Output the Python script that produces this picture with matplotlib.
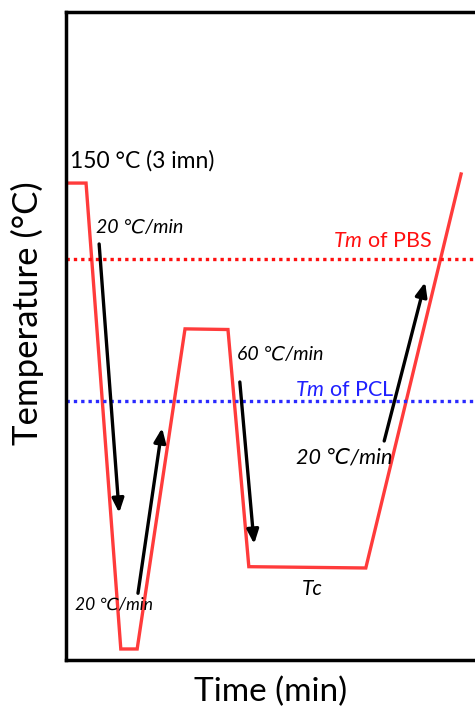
import matplotlib.pyplot as plt

plt.rcParams['font.family'] = ['Lato', 'DejaVu Sans']
plt.rcParams['mathtext.fontset'] = 'custom'
plt.rcParams['mathtext.rm'] = 'Lato'
plt.rcParams['mathtext.it'] = 'Lato:italic'

# Thermal program (schematic units, no ticks shown)
time_pts = [0.0, 4.9, 13.4, 17.4, 29.1, 39.6, 44.7, 73.3, 96.6]
temp_pts = [73.6, 73.6, 1.7, 1.7, 51.1, 51.0, 14.4, 14.2, 75.0]

tm_pbs = 61.9
tm_pcl = 40.0

# Rate arrows: (x_start, y_start, x_end, y_end)
arrows = [
    (8.1, 64.2, 13.0, 22.7),
    (17.6, 10.3, 23.5, 35.8),
    (42.5, 42.9, 46.0, 17.9),
    (77.8, 33.8, 87.8, 58.3),
]

fig = plt.figure(figsize=(4.75, 7.09), dpi=100)
ax = fig.add_axes([66 / 475, 49 / 709, 409 / 475, 648 / 709])
ax.set_xlim(0, 100)
ax.set_ylim(0, 100)

ax.plot(time_pts, temp_pts, color='#ff3b3b', lw=2.4, solid_joinstyle='miter')
ax.axhline(tm_pbs, color='#ff1010', lw=2.4, ls=(0, (1, 1.2)))
ax.axhline(tm_pcl, color='#2a2aff', lw=2.4, ls=(0, (1, 1.2)))

for x0, y0, x1, y1 in arrows:
    ax.annotate('', xy=(x1, y1), xytext=(x0, y0),
                arrowprops=dict(arrowstyle='-|>,head_length=0.6,head_width=0.25',
                                color='black', lw=2.4, shrinkA=0, shrinkB=0,
                                mutation_scale=14))

ax.text(1.0, 77.0, '150 °C (3 imn)', fontsize=16.5, va='center', ha='left')
ax.text(7.3, 66.8, '20 ℃/min', fontsize=14, style='italic', va='center')
ax.text(2.2, 8.5, '20 ℃/min', fontsize=12.5, style='italic', va='center')
ax.text(41.8, 47.1, '60 ℃/min', fontsize=14, style='italic', va='center')
ax.text(56.3, 31.2, '20 ℃/min', fontsize=15.5, style='italic', va='center')
ax.text(57.7, 11.0, 'Tc', fontsize=15, style='italic', va='center')
ax.text(89.5, 64.6, r'$\mathit{Tm}$ of PBS', fontsize=15.5, color='#ff1010',
        va='center', ha='right')
ax.text(80.4, 41.7, r'$\mathit{Tm}$ of PCL', fontsize=15.5, color='#2020ff',
        va='center', ha='right')

ax.set_xticks([])
ax.set_yticks([])
ax.spines['right'].set_visible(False)
for side in ['left', 'top', 'bottom']:
    ax.spines[side].set_linewidth(2.5)

ax.set_xlabel('Time (min)', fontsize=24, labelpad=12)
ax.set_ylabel('Temperature (°C)', fontsize=25)
ax.yaxis.set_label_coords(-0.055, 0.535)

fig.savefig('out.png', dpi=100)
